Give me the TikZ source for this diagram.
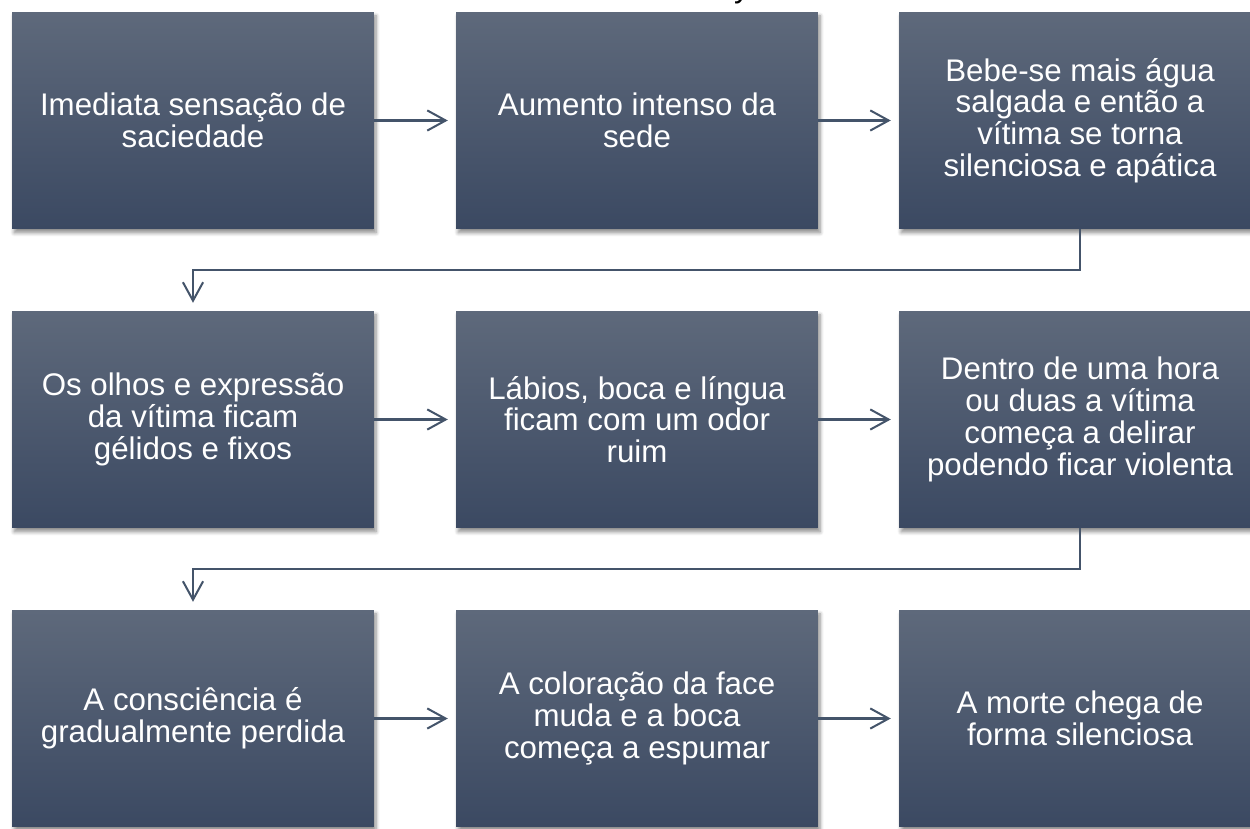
\documentclass[tikz,border=0pt]{standalone}
\usepackage{fontspec}
\setmainfont{Liberation Sans}
\usepackage{tikz}
\usetikzlibrary{arrows.meta,shadows.blur}
\definecolor{boxtop}{RGB}{94,105,123}
\definecolor{boxbot}{RGB}{59,73,98}
\definecolor{linec}{RGB}{68,84,106}
\tikzstyle{stage}=[rectangle,top color=boxtop,bottom color=boxbot,draw=none,minimum width=7.24cm,minimum height=4.34cm,inner sep=0pt,align=center,text=white,font=\fontsize{17.8pt}{18.1pt}\selectfont,blur shadow={shadow xshift=1.2pt,shadow yshift=-2.2pt,shadow blur steps=6,shadow opacity=45}]
\tikzstyle{flow}=[draw=linec,line width=1.15pt,-{Straight Barb[length=10.5pt,width=11.5pt,line width=1.15pt]},shorten >=4.5pt]

\begin{document}
\begin{tikzpicture}[x=0.02cm,y=-0.02cm]
                  \useasboundingbox (0,0) rectangle (1250,828);

                  \node (tfrag) at (742,-2.6) [anchor=base,font=\fontsize{17.8pt}{18.1pt}\selectfont] {y};

                  \node (s1) at (193,120.5) [stage] {Imediata sensação de\\saciedade};
                  \node (s2) at (637,120.5) [stage] {Aumento intenso da\\sede};
                  \node (s3) at (1080,120.5) [stage] {Bebe-se mais água\\salgada e então a\\vítima se torna\\silenciosa e apática};

                  \node (s4) at (193,419.5) [stage] {Os olhos e expressão\\da vítima ficam\\gélidos e fixos};
                  \node (s5) at (637,419.5) [stage] {Lábios, boca e língua\\ficam com um odor\\ruim};
                  \node (s6) at (1080,419.5) [stage] {Dentro de uma hora\\ou duas a vítima\\começa a delirar\\podendo ficar violenta};

                  \node (s7) at (193,718.5) [stage] {A consciência é\\gradualmente perdida};
                  \node (s8) at (637,718.5) [stage] {A coloração da face\\muda e a boca\\começa a espumar};
                  \node (s9) at (1080,718.5) [stage] {A morte chega de\\forma silenciosa};

                  \draw [flow] (s1) -- (s2);
                  \draw [flow] (s2) -- (s3);
                  \draw [flow] (s3.south) -- ++(0,41) -| (s4.north);

                  \draw [flow] (s4) -- (s5);
                  \draw [flow] (s5) -- (s6);
                  \draw [flow] (s6.south) -- ++(0,41) -| (s7.north);

                  \draw [flow] (s7) -- (s8);
                  \draw [flow] (s8) -- (s9);
              \end{tikzpicture}
\end{document}
